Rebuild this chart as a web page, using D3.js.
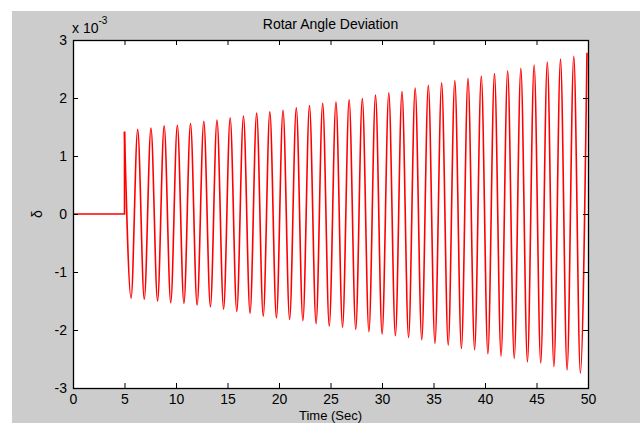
<!DOCTYPE html>
<html>
<head>
<meta charset="utf-8">
<script src="https://cdn.jsdelivr.net/npm/d3@7"></script>
<style>
  body { margin: 0; background: #ffffff; }
  svg { display: block; font-family: "Liberation Sans", Arial, sans-serif; }
  .tick text { fill: #000; font-size: 14px; }
  .tick line { stroke: #000; }
</style>
</head>
<body>
<script>
// values in units of 10^-3
var xTicks = [0, 5, 10, 15, 20, 25, 30, 35, 40, 45, 50];
var yTicks = [-3, -2, -1, 0, 1, 2, 3];

// before the disturbance
var baseTimes = [0, 5];
var baseValues = [0, 0];

// positive swings
var peakTimes = [5.00, 6.28, 7.57, 8.85, 10.13, 11.41, 12.70, 13.98, 15.26, 16.55,
    17.83, 19.11, 20.39, 21.68, 22.96, 24.24, 25.53, 26.81, 28.09, 29.37,
    30.66, 31.94, 33.22, 34.50, 35.79, 37.07, 38.35, 39.64, 40.92, 42.20,
    43.48, 44.77, 46.05, 47.33, 48.62, 49.90];
var peakValues = [1.42, 1.46, 1.48, 1.52, 1.53, 1.56, 1.60, 1.62, 1.66, 1.69,
    1.74, 1.76, 1.79, 1.83, 1.87, 1.91, 1.93, 1.97, 1.99, 2.05,
    2.09, 2.11, 2.17, 2.22, 2.26, 2.30, 2.34, 2.38, 2.42, 2.47,
    2.51, 2.57, 2.62, 2.67, 2.72, 2.78];

// negative swings
var troughTimes = [5.64, 6.92, 8.21, 9.49, 10.77, 12.05, 13.34, 14.62, 15.90, 17.19,
    18.47, 19.75, 21.03, 22.32, 23.60, 24.88, 26.17, 27.45, 28.73, 30.01,
    31.30, 32.58, 33.86, 35.14, 36.43, 37.71, 38.99, 40.28, 41.56, 42.84,
    44.12, 45.41, 46.69, 47.97, 49.26];
var troughValues = [-1.45, -1.47, -1.50, -1.53, -1.54, -1.57, -1.60, -1.64, -1.68, -1.71,
    -1.76, -1.79, -1.82, -1.84, -1.89, -1.93, -1.95, -1.99, -2.03, -2.07,
    -2.10, -2.13, -2.17, -2.23, -2.26, -2.32, -2.34, -2.41, -2.45, -2.49,
    -2.55, -2.57, -2.63, -2.69, -2.74];

var W = 643, H = 423;
var plot = { left: 73, top: 40, right: 588, bottom: 388 };

var svg = d3.select("body").append("svg")
    .attr("width", W)
    .attr("height", H);

// figure background
svg.append("rect")
    .attr("x", 12).attr("y", 11)
    .attr("width", 628).attr("height", H - 11)
    .attr("fill", "#cccccc");

svg.append("rect")
    .attr("x", plot.left).attr("y", plot.top)
    .attr("width", plot.right - plot.left)
    .attr("height", plot.bottom - plot.top)
    .attr("fill", "#ffffff");

var x = d3.scaleLinear().domain([0, 50]).range([plot.left, plot.right]);
var y = d3.scaleLinear().domain([-3, 3]).range([plot.bottom, plot.top]);

// build point lists
var base = baseTimes.map(function (t, i) { return [t, baseValues[i]]; });
base.push([peakTimes[0], peakValues[0]]);

var osc = [];
peakTimes.forEach(function (t, i) { osc.push([t, peakValues[i]]); });
troughTimes.forEach(function (t, i) { osc.push([t, troughValues[i]]); });
osc.sort(function (a, b) { return a[0] - b[0]; });

svg.append("clipPath").attr("id", "clip")
    .append("rect")
    .attr("x", plot.left).attr("y", plot.top)
    .attr("width", plot.right - plot.left)
    .attr("height", plot.bottom - plot.top);

var g = svg.append("g").attr("clip-path", "url(#clip)");

g.append("path")
    .datum(base)
    .attr("fill", "none")
    .attr("stroke", "#ff0000")
    .attr("stroke-width", 1.6)
    .attr("d", d3.line()
        .x(function (d) { return x(d[0]); })
        .y(function (d) { return y(d[1]); }));

g.append("path")
    .datum(osc)
    .attr("fill", "none")
    .attr("stroke", "#ff0000")
    .attr("stroke-width", 1.6)
    .attr("d", d3.line()
        .curve(d3.curveMonotoneX)
        .x(function (d) { return x(d[0]); })
        .y(function (d) { return y(d[1]); }));

// axes, ticks pointing inward on all four sides
svg.append("g")
    .attr("transform", "translate(0," + plot.bottom + ")")
    .call(d3.axisBottom(x).tickValues(xTicks).tickSize(-5).tickPadding(6)
        .tickFormat(d3.format("d")));

svg.append("g")
    .attr("transform", "translate(0," + plot.top + ")")
    .call(d3.axisTop(x).tickValues(xTicks).tickSize(-5).tickFormat(""));

svg.append("g")
    .attr("transform", "translate(" + plot.left + ",0)")
    .call(d3.axisLeft(y).tickValues(yTicks).tickSize(-5).tickPadding(6)
        .tickFormat(function (d) { return d < 0 ? "-" + Math.abs(d) : String(d); }));

svg.append("g")
    .attr("transform", "translate(" + plot.right + ",0)")
    .call(d3.axisRight(y).tickValues(yTicks).tickSize(-5).tickFormat(""));

svg.selectAll(".domain").remove();

// box
svg.append("rect")
    .attr("x", plot.left + 0.5).attr("y", plot.top + 0.5)
    .attr("width", plot.right - plot.left)
    .attr("height", plot.bottom - plot.top)
    .attr("fill", "none")
    .attr("stroke", "#000")
    .attr("stroke-width", 1.3);

// titles
svg.append("text")
    .attr("x", (plot.left + plot.right) / 2)
    .attr("y", 29)
    .attr("text-anchor", "middle")
    .attr("font-size", "14px")
    .text("Rotar Angle Deviation");

svg.append("text")
    .attr("x", (plot.left + plot.right) / 2)
    .attr("y", 420)
    .attr("text-anchor", "middle")
    .attr("font-size", "13px")
    .text("Time (Sec)");

svg.append("text")
    .attr("transform", "translate(42," + y(0) + ") rotate(-90)")
    .attr("text-anchor", "middle")
    .attr("font-size", "14px")
    .text("δ");

var expo = svg.append("text")
    .attr("x", 72)
    .attr("y", 33)
    .attr("font-size", "14px");
expo.append("tspan").text("x 10");
expo.append("tspan")
    .attr("dy", -9)
    .attr("font-size", "10px")
    .text("-3");
</script>
</body>
</html>
